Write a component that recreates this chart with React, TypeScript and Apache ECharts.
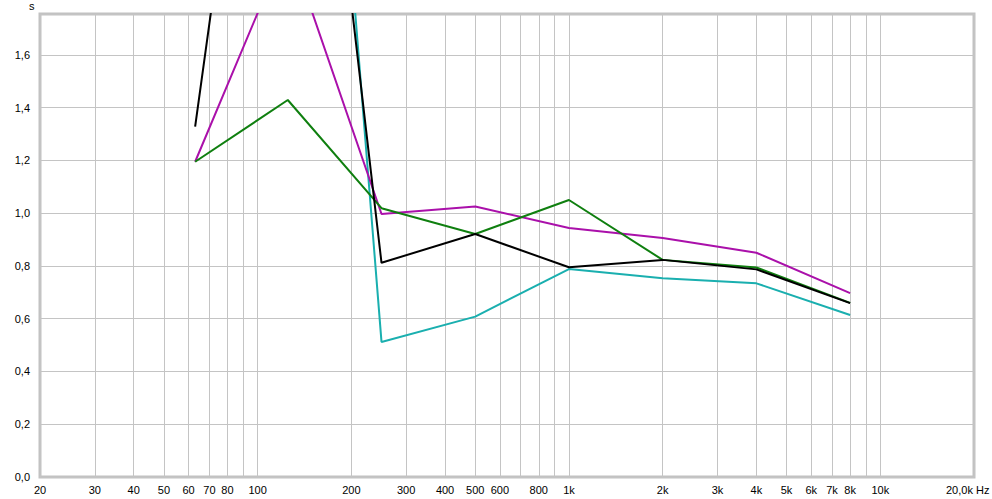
import React, { useEffect, useRef } from "react";
import * as echarts from "echarts";

const freqs = [63, 125, 250, 500, 1000, 2000, 4000, 8000];
const blackVals = [1.328, 3.87, 0.812, 0.921, 0.795, 0.823, 0.787, 0.659];
const magentaVals = [1.195, 2.03, 0.997, 1.025, 0.944, 0.906, 0.85, 0.697];
const greenVals = [1.195, 1.429, 1.019, 0.921, 1.05, 0.823, 0.794, 0.66];
const cyanVals = [null, 4.96, 0.512, 0.608, 0.788, 0.753, 0.734, 0.614];

const gridFreqs = [
  20, 30, 40, 50, 60, 70, 80, 90, 100, 200, 300, 400, 500, 600, 700, 800, 900,
  1000, 2000, 3000, 4000, 5000, 6000, 7000, 8000, 9000, 10000, 20000,
];
const labelFreqs = [
  20, 30, 40, 50, 60, 70, 80, 100, 200, 300, 400, 500, 600, 800, 1000, 2000,
  3000, 4000, 5000, 6000, 7000, 8000, 10000,
];
const labelTexts = [
  "20", "30", "40", "50", "60", "70", "80", "100", "200", "300", "400", "500",
  "600", "800", "1k", "2k", "3k", "4k", "5k", "6k", "7k", "8k", "10k",
];
const yTicks = [0, 0.2, 0.4, 0.6, 0.8, 1.0, 1.2, 1.4, 1.6];

const FONT = "Liberation Sans";

export default function App() {
  const ref = useRef<HTMLDivElement>(null);
  useEffect(() => {
    if (!ref.current) return;
    const chart = echarts.init(ref.current, null, { renderer: "svg" });
    const toPts = (vals: (number | null)[]) =>
      freqs.map((f, i) => [Math.log10(f), vals[i] === null ? null : vals[i]]);
    const mkSeries = (name: string, vals: (number | null)[], color: string) => ({
      name,
      type: "line",
      data: toPts(vals),
      showSymbol: false,
      symbol: "none",
      lineStyle: { color, width: 2 },
      itemStyle: { color },
      clip: true,
      connectNulls: false,
    });
    chart.setOption({
      animation: false,
      grid: {
        left: 40,
        right: 18,
        top: 14,
        bottom: 22,
        show: true,
        borderColor: "#c2c2c2",
        borderWidth: 3,
        backgroundColor: "#ffffff",
      },
      xAxis: {
        type: "value",
        min: Math.log10(20),
        max: Math.log10(20000),
        axisLine: { show: false },
        axisTick: {
          show: false,
          customValues: gridFreqs.map((f) => Math.log10(f)),
        },
        splitLine: { show: true, lineStyle: { color: "#c4c4c4", width: 1 } },
        axisLabel: {
          customValues: labelFreqs.map((f) => Math.log10(f)),
          formatter: (v: number) => {
            const f = Math.round(Math.pow(10, v));
            const idx = labelFreqs.indexOf(f);
            return idx >= 0 ? labelTexts[idx] : "";
          },
          color: "#000",
          fontFamily: FONT,
          fontSize: 11,
          margin: 7,
        },
      },
      yAxis: {
        type: "value",
        min: 0,
        max: 1.755,
        interval: 0.2,
        axisLine: { show: false },
        axisTick: { show: false },
        splitLine: { show: true, lineStyle: { color: "#c4c4c4", width: 1 } },
        axisLabel: {
          formatter: (v: number) => {
            const hit = yTicks.find((t) => Math.abs(t - v) < 1e-6);
            return hit === undefined ? "" : hit.toFixed(1).replace(".", ",");
          },
          color: "#000",
          fontFamily: FONT,
          fontSize: 11,
          margin: 10,
        },
      },
      graphic: [
        {
          type: "text",
          left: 29,
          top: 0,
          style: { text: "s", fill: "#000", font: `11px ${FONT}` },
        },
        {
          type: "text",
          left: 946,
          top: 484,
          style: { text: "20,0k Hz", fill: "#000", font: `11px ${FONT}` },
        },
      ],
      series: [
        mkSeries("cyan", cyanVals, "#1aafaf"),
        mkSeries("magenta", magentaVals, "#aa10aa"),
        mkSeries("green", greenVals, "#0f7f0f"),
        mkSeries("black", blackVals, "#000000"),
      ],
    });
    return () => chart.dispose();
  }, []);
  return (
    <div
      ref={ref}
      style={{ position: "absolute", left: 0, top: 0, width: 992, height: 499 }}
    />
  );
}
